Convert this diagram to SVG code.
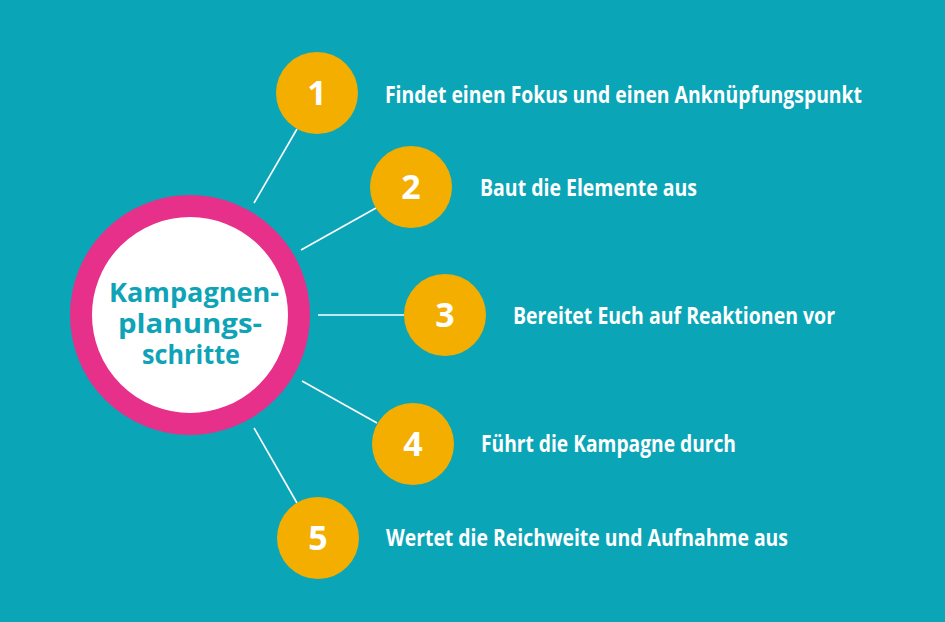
<svg xmlns="http://www.w3.org/2000/svg" width="945" height="622" viewBox="0 0 945 622">
<style>
.bg{fill:#0ba5b8}
.num circle{fill:#f4ae00}
.num text{fill:#fff;font-family:"Open Sans","Liberation Sans",sans-serif;font-weight:bold;font-size:34px;text-anchor:middle}
.lbl{fill:#fff;font-family:"Open Sans","Liberation Sans",sans-serif;font-weight:bold;font-size:23px}
.ctr{fill:#0ea3b6;font-family:"Open Sans","Liberation Sans",sans-serif;font-weight:bold;font-size:27px;text-anchor:middle}
#connectors line{stroke:#fff;stroke-width:1.6}
</style>
<rect class="bg" x="0" y="0" width="945" height="622"/>
<g id="connectors">
<line x1="254" y1="203" x2="297" y2="129"/>
<line x1="301" y1="250" x2="376" y2="208"/>
<line x1="318" y1="315" x2="404" y2="315"/>
<line x1="302" y1="381" x2="377" y2="423"/>
<line x1="254" y1="428" x2="297" y2="503"/>
</g>
<g id="center">
<circle cx="190" cy="315" r="109" fill="#fff" stroke="#e6308a" stroke-width="22"/>
<text class="ctr" x="194" y="302" textLength="170" lengthAdjust="spacingAndGlyphs">Kampagnen-</text>
<text class="ctr" x="190" y="333" textLength="144" lengthAdjust="spacingAndGlyphs">planungs-</text>
<text class="ctr" x="191" y="364" textLength="98" lengthAdjust="spacingAndGlyphs">schritte</text>
</g>
<g id="step1" class="num"><circle cx="317" cy="93" r="41"/><text x="317" y="105">1</text></g>
<g id="step2" class="num"><circle cx="411" cy="187" r="41"/><text x="411" y="199">2</text></g>
<g id="step3" class="num"><circle cx="445" cy="315" r="41"/><text x="445" y="327">3</text></g>
<g id="step4" class="num"><circle cx="413" cy="444" r="41"/><text x="413" y="456">4</text></g>
<g id="step5" class="num"><circle cx="318" cy="538" r="41"/><text x="318" y="550">5</text></g>
<g id="label1"><text class="lbl" x="385" y="103" textLength="477" lengthAdjust="spacingAndGlyphs">Findet einen Fokus und einen Anknüpfungspunkt</text></g>
<g id="label2"><text class="lbl" x="480" y="196" textLength="217" lengthAdjust="spacingAndGlyphs">Baut die Elemente aus</text></g>
<g id="label3"><text class="lbl" x="513" y="324" textLength="322" lengthAdjust="spacingAndGlyphs">Bereitet Euch auf Reaktionen vor</text></g>
<g id="label4"><text class="lbl" x="481" y="452" textLength="255" lengthAdjust="spacingAndGlyphs">Führt die Kampagne durch</text></g>
<g id="label5"><text class="lbl" x="386" y="546" textLength="402" lengthAdjust="spacingAndGlyphs">Wertet die Reichweite und Aufnahme aus</text></g>
</svg>
